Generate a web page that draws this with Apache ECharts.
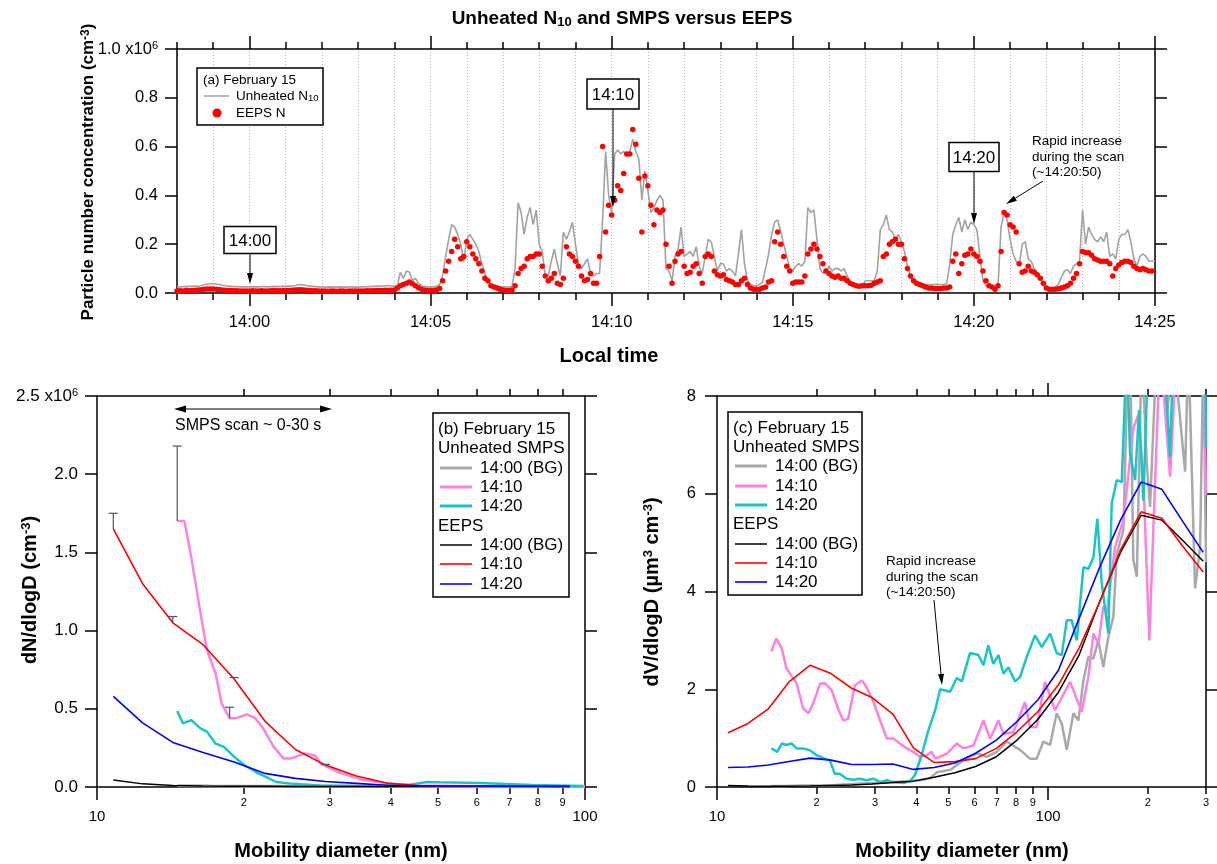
<!DOCTYPE html>
<html><head><meta charset="utf-8">
<script src="https://cdn.jsdelivr.net/npm/echarts@6/dist/echarts.min.js"></script>
<style>html,body{margin:0;padding:0;background:#fff}#c{width:1217px;height:864px}</style>
</head><body><div id="c"></div>
<script>
const FONT = '"Liberation Sans", Arial, Helvetica, sans-serif';

// ================= Panel (a): time series, values in 10^6 cm^-3 =================
const timeStartMin = -2;      // 13:58, minutes relative to 14:00
const sampleStepSec = 5;
const majorTimeTicks = [0, 5, 10, 15, 20, 25];
const majorTimeLabels = ['14:00', '14:05', '14:10', '14:15', '14:20', '14:25'];

const unheatedN10 = [
  0.025,0.025,0.026,0.026,0.027,0.027,0.028,0.028,0.030,0.034,0.037,0.038, // 13:58
  0.038,0.037,0.035,0.032,0.030,0.028,0.027,0.026,0.026,0.025,0.025,0.025, // 13:59
  0.025,0.026,0.025,0.025,0.026,0.026,0.025,0.026,0.027,0.026,0.026,0.027, // 14:00
  0.027,0.028,0.028,0.030,0.033,0.035,0.033,0.030,0.028,0.027,0.026,0.025, // 14:01
  0.025,0.024,0.024,0.025,0.024,0.024,0.025,0.024,0.024,0.025,0.025,0.024, // 14:02
  0.024,0.025,0.025,0.026,0.026,0.027,0.028,0.028,0.029,0.030,0.030,0.029, // 14:03
  0.028,0.030,0.085,0.060,0.090,0.085,0.050,0.060,0.040,0.030,0.027,0.025, // 14:04
  0.025,0.025,0.027,0.035,0.070,0.150,0.220,0.280,0.270,0.240,0.200,0.130, // 14:05
  0.220,0.240,0.220,0.200,0.170,0.120,0.080,0.050,0.035,0.030,0.027,0.025, // 14:06
  0.025,0.025,0.025,0.026,0.100,0.370,0.330,0.240,0.310,0.350,0.280,0.340, // 14:07
  0.200,0.170,0.070,0.070,0.130,0.180,0.120,0.070,0.250,0.220,0.250,0.290, // 14:08
  0.200,0.120,0.100,0.120,0.140,0.080,0.070,0.080,0.080,0.300,0.580,0.400, // 14:09
  0.330,0.570,0.586,0.570,0.580,0.560,0.580,0.630,0.580,0.550,0.380,0.500, // 14:10
  0.420,0.330,0.350,0.380,0.400,0.380,0.100,0.090,0.050,0.150,0.180,0.270, // 14:11
  0.150,0.160,0.170,0.150,0.190,0.110,0.080,0.150,0.220,0.210,0.150,0.090, // 14:12
  0.120,0.120,0.090,0.100,0.090,0.070,0.160,0.260,0.120,0.050,0.035,0.030, // 14:13
  0.030,0.035,0.045,0.100,0.160,0.240,0.290,0.300,0.250,0.200,0.150,0.100, // 14:14
  0.090,0.110,0.120,0.110,0.130,0.350,0.330,0.340,0.220,0.100,0.080,0.090, // 14:15
  0.110,0.090,0.100,0.100,0.090,0.100,0.070,0.050,0.035,0.030,0.028,0.030, // 14:16
  0.050,0.050,0.050,0.050,0.090,0.260,0.280,0.320,0.260,0.250,0.220,0.240, // 14:17
  0.210,0.170,0.110,0.070,0.050,0.040,0.035,0.035,0.035,0.035,0.035,0.035, // 14:18
  0.035,0.035,0.035,0.037,0.120,0.240,0.280,0.310,0.250,0.300,0.260,0.290, // 14:19
  0.280,0.260,0.150,0.050,0.030,0.025,0.025,0.025,0.030,0.270,0.330,0.300, // 14:20
  0.220,0.160,0.130,0.110,0.200,0.210,0.140,0.130,0.100,0.080,0.060,0.040, // 14:21
  0.025,0.020,0.020,0.025,0.035,0.065,0.090,0.095,0.080,0.110,0.120,0.130, // 14:22
  0.340,0.200,0.270,0.240,0.220,0.210,0.230,0.210,0.250,0.150,0.160,0.140, // 14:23
  0.220,0.240,0.240,0.260,0.210,0.140,0.110,0.150,0.160,0.150,0.130,0.130, // 14:24
  0.130                                                                    // 14:25
];

const eepsN = [
  0.008,0.009,0.008,0.010,0.009,0.010,0.011,0.012,0.013,0.015,0.016,0.016,
  0.016,0.015,0.014,0.012,0.011,0.010,0.010,0.009,0.009,0.008,0.008,0.008,
  0.008,0.009,0.008,0.008,0.009,0.008,0.008,0.009,0.010,0.009,0.009,0.010,
  0.010,0.010,0.011,0.012,0.013,0.013,0.012,0.011,0.010,0.009,0.009,0.008,
  0.008,0.008,0.007,0.008,0.008,0.007,0.008,0.008,0.007,0.008,0.008,0.008,
  0.008,0.008,0.008,0.009,0.009,0.009,0.010,0.010,0.010,0.011,0.011,0.011,
  0.012,0.020,0.030,0.035,0.040,0.045,0.038,0.030,0.022,0.015,0.012,0.010,
  0.010,0.010,0.012,0.018,0.050,0.090,0.130,0.170,0.220,0.190,0.140,0.150,
  0.210,0.190,0.160,0.140,0.120,0.090,0.060,0.050,0.030,0.025,0.020,0.015,
  0.012,0.010,0.010,0.012,0.030,0.080,0.100,0.110,0.140,0.150,0.150,0.160,
  0.160,0.110,0.070,0.050,0.060,0.080,0.040,0.035,0.060,0.190,0.160,0.150,
  0.130,0.110,0.070,0.050,0.055,0.080,0.040,0.040,0.150,0.600,0.250,0.360,
  0.320,0.380,0.440,0.420,0.490,0.570,0.570,0.670,0.610,0.470,0.250,0.480,
  0.440,0.360,0.280,0.340,0.330,0.340,0.200,0.110,0.040,0.130,0.160,0.170,
  0.110,0.080,0.085,0.110,0.120,0.080,0.040,0.150,0.160,0.150,0.090,0.075,
  0.070,0.075,0.055,0.050,0.045,0.035,0.035,0.050,0.060,0.035,0.020,0.015,
  0.015,0.015,0.020,0.025,0.045,0.050,0.210,0.250,0.200,0.150,0.110,0.090,
  0.040,0.045,0.045,0.045,0.070,0.160,0.180,0.200,0.180,0.150,0.120,0.090,
  0.080,0.070,0.065,0.070,0.060,0.060,0.050,0.040,0.035,0.030,0.028,0.030,
  0.030,0.030,0.032,0.040,0.045,0.050,0.150,0.160,0.200,0.210,0.220,0.200,
  0.200,0.140,0.100,0.070,0.050,0.040,0.035,0.030,0.025,0.020,0.020,0.018,
  0.018,0.018,0.020,0.020,0.025,0.130,0.160,0.080,0.120,0.155,0.160,0.180,
  0.160,0.150,0.130,0.090,0.050,0.030,0.025,0.015,0.030,0.170,0.330,0.320,
  0.280,0.270,0.250,0.120,0.085,0.090,0.110,0.090,0.085,0.075,0.060,0.040,
  0.020,0.015,0.015,0.015,0.017,0.020,0.025,0.030,0.040,0.060,0.080,0.120,
  0.170,0.165,0.165,0.155,0.140,0.135,0.130,0.130,0.130,0.120,0.070,0.100,
  0.115,0.125,0.130,0.130,0.125,0.110,0.100,0.095,0.100,0.095,0.090,0.090
];

// ================= Panel (b): dN/dlogD in 10^6 cm^-3 =================
const eepsDiamB = [10.8,12.4,14.3,16.5,19.1,22.1,25.5,29.4,34.0,39.2,45.3,52.3,60.4,69.8,80.6,93.1];
const eepsBG_B   = [0.045,0.020,0.010,0.007,0.005,0.004,0.003,0.003,0.0025,0.002,0.004,0.0035,0.003,0.003,0.003,0.003];
const eeps1410_B = [1.65,1.30,1.05,0.91,0.69,0.42,0.24,0.14,0.07,0.025,0.010,0.007,0.005,0.0044,0.0041,0.0036];
const eeps1420_B = [0.58,0.41,0.285,0.22,0.16,0.087,0.055,0.035,0.023,0.011,0.008,0.0065,0.006,0.0054,0.0049,0.0042];

const smpsBGDiamB = [14.6,17.0,20.0,25.0,30.0,40.0,50.0,70.0,100];
const smpsBG_B    = [0.008,0.006,0.005,0.004,0.004,0.003,0.003,0.002,0.002];
const smps1410DiamB = [14.6,15.1,15.6,16.3,16.8,17.5,18.0,18.7,19.3,20.3,21.1,21.9,23.0,24.1,25.0,26.7,28.0,28.7,31.5,34.6,39.9,45.9,61.0,100];
const smps1410_B    = [1.70,1.70,1.47,1.11,0.876,0.726,0.535,0.44,0.44,0.465,0.44,0.375,0.258,0.183,0.183,0.215,0.20,0.15,0.09,0.05,0.02,0.01,0.005,0.003];
const smps1420DiamB = [14.6,15.0,15.6,16.3,16.8,17.5,18.2,19.0,19.9,21.2,22.3,23.3,25.2,28.6,35.0,43.8,47.4,50.4,60.9,78.3,99.1];
const smps1420_B    = [0.486,0.407,0.428,0.375,0.354,0.277,0.256,0.20,0.147,0.094,0.062,0.032,0.02,0.01,0.006,0.015,0.032,0.030,0.025,0.012,0.006];
// error bars: [diameter, value, upper]
const errBarsB = [[10.8,1.65,1.75],[14.3,1.05,1.09],[19.1,0.69,0.70],[29.4,0.14,0.145],[14.6,1.70,2.18],[18.7,0.44,0.51]];

// ================= Panel (c): dV/dlogD in um^3 cm^-3 =================
const eepsDiamC  = [10.8,12.4,14.3,16.5,19.1,22.1,25.5,29.4,34.0,39.2,45.3,52.3,60.4,69.8,80.6,93.1,107.5,124.1,143.3,165.5,191.1,220.7,254.8,294.3];
const eepsBG_C   = [0.03,0.02,0.015,0.015,0.02,0.03,0.04,0.06,0.09,0.12,0.20,0.29,0.42,0.62,0.96,1.38,1.94,2.70,3.80,4.80,5.56,5.46,5.05,4.62];
const eeps1410_C = [1.11,1.30,1.60,2.15,2.49,2.32,2.02,1.83,1.49,0.80,0.50,0.52,0.58,0.79,1.13,1.54,2.09,2.84,3.79,4.85,5.63,5.50,4.93,4.40];
const eeps1420_C = [0.40,0.41,0.45,0.52,0.59,0.55,0.46,0.46,0.47,0.36,0.40,0.49,0.69,0.96,1.34,1.78,2.39,3.45,4.50,5.46,6.24,6.09,5.44,4.80];

const smpsBGDiamC = [14.6,16.2,18.2,20.5,22.7,25.8,29.7,34.1,37.4,41.0,44.0,46.1,50.6,55.5,60.9,65.3,70.0,75.0,82.3,88.2,92.4,96.8,101.4,106.2,110.0,113.9,119.3,123.5,127.9,132.3,137.1,141.9,146.9,152.1,157.5,161.3,168.9,172.9,176.9,181.0,185.4,191.9,198.7,203.3,213.0,223.0,228.4,239.1,259.4,265.4,278.0,287.9,294.6,300];
const smpsBG_C    = [0.02,0.02,0.03,0.03,0.04,0.06,0.08,0.10,0.12,0.14,0.18,0.30,0.35,0.55,0.69,0.62,0.72,0.93,0.76,0.58,0.58,0.93,0.86,1.51,1.30,0.76,1.51,1.36,2.18,2.66,2.63,3.00,2.45,3.07,3.48,4.77,5.25,7.93,9,4.64,4.30,9,6.62,5.73,9,9,7.55,9,6.45,9,4.06,4.91,9,4.6];
const smps1410DiamC = [14.6,15.1,15.7,16.2,17.4,18.2,18.9,19.5,20.5,21.2,22.2,23.3,24.1,24.9,26.1,27.4,28.3,29.7,31.1,32.6,34.1,35.7,37.4,39.2,41.0,43.0,44.5,45.6,49.4,53.0,55.5,59.5,63.8,66.8,70.8,73.3,78.6,85.2,88.2,92.4,97.9,105.0,116.6,126.4,132.3,137.1,141.9,146.9,150.4,159.4,168.9,181.0,187.4,194.1,202.3,209.0,218.0,233.7,244.8,256.3,294.6,300];
const smps1410_C    = [2.77,3.04,2.83,2.43,2.12,1.61,1.51,1.70,2.12,2.12,1.98,1.57,1.36,1.40,2.08,2.18,2.04,1.74,1.36,0.99,0.99,0.89,0.79,0.72,0.62,0.65,0.72,0.58,0.68,0.89,0.79,0.85,1.36,0.99,1.36,1.09,1.12,1.74,1.23,1.23,2.15,1.57,2.15,1.54,2.25,3.14,2.93,3.69,3.55,4.91,5.46,7.34,7.61,6.28,3.0,5.67,9,6.35,9,9,9,5.98];
const smps1420DiamC = [14.6,15.2,15.7,16.2,16.8,17.4,18.2,19.1,20.0,21.2,21.9,22.7,23.5,24.6,25.8,27.0,28.3,29.7,31.1,32.6,34.1,36.5,38.3,39.6,41.5,43.5,45.6,47.2,50.6,53.0,54.9,58.1,61.6,63.8,66.0,68.3,70.8,73.3,75.9,79.5,82.3,86.2,91.3,95.7,101.4,106.2,110.0,113.9,117.9,122.1,127.9,132.3,137.1,140.9,145.3,152.1,155.7,161.3,167.0,172.9,176.9,183.2,188.3,194.1,200.9,208.0,223.0,233.7,239.1,259.4,262.4,298.1,300];
const smps1420_C    = [0.79,0.72,0.89,0.86,0.89,0.79,0.79,0.75,0.65,0.58,0.55,0.27,0.27,0.17,0.15,0.17,0.14,0.17,0.10,0.14,0.10,0.08,0.12,0.24,0.65,1.16,1.57,2.0,1.95,2.23,2.16,2.74,2.70,2.49,2.90,2.52,2.70,2.32,2.45,2.16,2.25,2.66,3.10,2.86,3.14,2.74,2.70,3.41,3.41,3.0,4.50,4.46,4.70,5.49,4.16,3.14,5.80,6.28,6.24,9,6.82,6.28,7.71,5.86,9,9,9,6.75,9,9,9,9,6.95];

// tick values for the log axes
const minorTicksB = [20,30,40,50,60,70,80,90];
const minorTicksC = [20,30,40,50,60,70,80,90,200,300];
const majorTicksLog = [10,100];

// ================= helpers =================
const zip = (xs, ys) => xs.map((x, i) => [x, ys[i]]);
const timeSeries = vals => vals.map((v, i) => [timeStartMin + i * sampleStepSec / 60, v]);

const C = {
  n10: '#a2a2a2', red: '#ff0000', grayS: '#a9a9a9', pink: '#ff80e2', cyan: '#19c6c6', blue: '#0000ff', black: '#000000'
};

const axLine = {onZero: false, lineStyle: {color: '#000', width: 1.5}};
const noLine = {show: false, onZero: false};
const tick = (len, extra) => Object.assign({show: true, length: len, lineStyle: {color: '#000', width: 1.5}}, extra || {});
const noLabel = {show: false};
const supRich = size => ({sup: {fontSize: size, verticalAlign: 'top', fontFamily: FONT, color: '#000'}});

function xValueAxis(grid, pos, line, tk, label, extra) {
  return Object.assign({type: 'value', gridIndex: grid, position: pos, min: -2, max: 25,
    axisLine: line, axisTick: tk, axisLabel: label, splitLine: {show: false}}, extra || {});
}
function xLogAxis(grid, pos, max, line, tk, label) {
  return {type: 'log', logBase: 10, gridIndex: grid, position: pos, min: 10, max: max,
    axisLine: line, axisTick: tk, axisLabel: label, splitLine: {show: false}, minorTick: {show: false}};
}

const xAxes = [
  // 0: panel a bottom minute ticks + dotted grid
  xValueAxis(0, 'bottom', axLine, tick(7), noLabel, {interval: 1,
    splitLine: {show: true, lineStyle: {color: '#b5b5b5', width: 1, type: [1, 2]}}}),
  // 1: panel a bottom major ticks + labels
  xValueAxis(0, 'bottom', noLine, tick(13, {customValues: majorTimeTicks}),
    {show: true, customValues: majorTimeTicks, margin: 21, fontSize: 16.5, color: '#000', fontFamily: FONT,
     formatter: v => majorTimeLabels[majorTimeTicks.indexOf(Math.round(v))]}),
  // 2: panel a top minute ticks
  xValueAxis(0, 'top', axLine, tick(7), noLabel, {interval: 1}),
  // 3: panel a top major ticks
  xValueAxis(0, 'top', noLine, tick(13, {customValues: majorTimeTicks}), noLabel),
  // 4: panel b bottom minor (data axis)
  xLogAxis(1, 'bottom', 100, axLine, tick(7, {customValues: minorTicksB}),
    {show: true, customValues: minorTicksB, margin: 10, fontSize: 11, color: '#000', fontFamily: FONT,
     formatter: v => String(Math.round(v / 10))}),
  // 5: panel b bottom major
  xLogAxis(1, 'bottom', 100, noLine, tick(13, {customValues: majorTicksLog}),
    {show: true, customValues: majorTicksLog, margin: 22, fontSize: 15, color: '#000', fontFamily: FONT,
     formatter: v => String(Math.round(v))}),
  // 6: panel b top
  xLogAxis(1, 'top', 100, axLine, tick(7, {customValues: minorTicksB}), noLabel),
  // 7: panel c bottom minor (data axis)
  xLogAxis(2, 'bottom', 300, axLine, tick(7, {customValues: minorTicksC}),
    {show: true, customValues: minorTicksC, margin: 10, fontSize: 11, color: '#000', fontFamily: FONT,
     formatter: v => String(Math.round(v < 100 ? v / 10 : v / 100))}),
  // 8: panel c bottom major
  xLogAxis(2, 'bottom', 300, noLine, tick(13, {customValues: majorTicksLog}),
    {show: true, customValues: majorTicksLog, margin: 22, fontSize: 15, color: '#000', fontFamily: FONT,
     formatter: v => String(Math.round(v))}),
  // 9: panel c top minor
  xLogAxis(2, 'top', 300, axLine, tick(7, {customValues: minorTicksC}), noLabel),
  // 10: panel c top major
  xLogAxis(2, 'top', 300, noLine, tick(13, {customValues: [100]}), noLabel)
];

const yAxes = [
  {type: 'value', gridIndex: 0, position: 'left', min: 0, max: 1, interval: 0.2,
   axisLine: axLine, axisTick: tick(12), splitLine: {show: false},
   axisLabel: {show: true, margin: 19, fontSize: 16.5, color: '#000', fontFamily: FONT, rich: supRich(11),
     formatter: v => Math.abs(v - 1) < 1e-9 ? '1.0 x10{sup|6}' : v.toFixed(1)}},
  {type: 'value', gridIndex: 0, position: 'right', min: 0, max: 1, interval: 0.2,
   axisLine: axLine, axisTick: tick(12), axisLabel: noLabel, splitLine: {show: false}},
  {type: 'value', gridIndex: 1, position: 'left', min: 0, max: 2.5, interval: 0.5,
   axisLine: axLine, axisTick: tick(12), splitLine: {show: false},
   axisLabel: {show: true, margin: 19, fontSize: 17, color: '#000', fontFamily: FONT, rich: supRich(11),
     formatter: v => Math.abs(v - 2.5) < 1e-9 ? '2.5 x10{sup|6}' : v.toFixed(1)}},
  {type: 'value', gridIndex: 1, position: 'right', min: 0, max: 2.5, interval: 0.5,
   axisLine: axLine, axisTick: tick(12), axisLabel: noLabel, splitLine: {show: false}},
  {type: 'value', gridIndex: 2, position: 'left', min: 0, max: 8, interval: 2,
   axisLine: axLine, axisTick: tick(12), splitLine: {show: false},
   axisLabel: {show: true, margin: 21, fontSize: 16.5, color: '#000', fontFamily: FONT, formatter: v => String(Math.round(v))}},
  {type: 'value', gridIndex: 2, position: 'right', min: 0, max: 8, interval: 2,
   axisLine: axLine, axisTick: tick(12), axisLabel: noLabel, splitLine: {show: false}}
];

function lineSeries(name, xi, yi, data, color, width, z) {
  return {name, type: 'line', xAxisIndex: xi, yAxisIndex: yi, data, showSymbol: false, symbol: 'none',
    clip: true, lineStyle: {color, width}, itemStyle: {color}, z: z || 2, silent: true};
}

const series = [
  lineSeries('Unheated N10', 0, 0, timeSeries(unheatedN10), C.n10, 1.6, 2),
  {name: 'EEPS N', type: 'scatter', xAxisIndex: 0, yAxisIndex: 0, data: timeSeries(eepsN),
   symbol: 'circle', symbolSize: 5.5, itemStyle: {color: C.red, opacity: 1}, z: 3, silent: true},

  lineSeries('SMPS 14:00 (BG) b', 4, 2, zip(smpsBGDiamB, smpsBG_B), C.grayS, 3, 2),
  lineSeries('SMPS 14:10 b', 4, 2, zip(smps1410DiamB, smps1410_B), C.pink, 2.5, 2),
  lineSeries('SMPS 14:20 b', 4, 2, zip(smps1420DiamB, smps1420_B), C.cyan, 2.5, 2),
  lineSeries('EEPS 14:00 (BG) b', 4, 2, zip(eepsDiamB, eepsBG_B), C.black, 1.5, 3),
  lineSeries('EEPS 14:10 b', 4, 2, zip(eepsDiamB, eeps1410_B), C.red, 1.6, 3),
  lineSeries('EEPS 14:20 b', 4, 2, zip(eepsDiamB, eeps1420_B), C.blue, 1.6, 3),
  {type: 'custom', xAxisIndex: 4, yAxisIndex: 2, data: errBarsB, z: 4, silent: true, clip: false,
   encode: {x: 0, y: [1, 2]},
   renderItem: (params, api) => {
     const p0 = api.coord([api.value(0), api.value(1)]);
     const p1 = api.coord([api.value(0), api.value(2)]);
     const st = {stroke: '#555', lineWidth: 1.2};
     return {type: 'group', children: [
       {type: 'line', shape: {x1: p0[0], y1: p0[1], x2: p1[0], y2: p1[1]}, style: st},
       {type: 'line', shape: {x1: p1[0] - 4.5, y1: p1[1], x2: p1[0] + 4.5, y2: p1[1]}, style: st}
     ]};
   }},

  lineSeries('SMPS 14:00 (BG) c', 7, 4, zip(smpsBGDiamC, smpsBG_C), C.grayS, 2.5, 2),
  lineSeries('SMPS 14:10 c', 7, 4, zip(smps1410DiamC, smps1410_C), C.pink, 2.5, 2),
  lineSeries('SMPS 14:20 c', 7, 4, zip(smps1420DiamC, smps1420_C), C.cyan, 2.5, 2),
  lineSeries('EEPS 14:00 (BG) c', 7, 4, zip(eepsDiamC, eepsBG_C), C.black, 1.5, 3),
  lineSeries('EEPS 14:10 c', 7, 4, zip(eepsDiamC, eeps1410_C), C.red, 1.6, 3),
  lineSeries('EEPS 14:20 c', 7, 4, zip(eepsDiamC, eeps1420_C), C.blue, 1.6, 3)
];

// ================= graphic helpers (text, legends, annotations) =================
function txt(x, y, text, size, o) {
  o = o || {};
  const align = o.align || 'left';
  return {type: 'text', x, y, rotation: o.rot || 0, z: 100, silent: true,
    style: {text, x: 0, y: 0, fill: '#000', fontSize: size, fontFamily: FONT,
      fontWeight: o.bold ? 'bold' : 'normal', align, textAlign: align,
      verticalAlign: 'middle', textVerticalAlign: 'middle', rich: o.rich}};
}
function hline(x1, x2, y, color, w) {
  return {type: 'line', z: 100, silent: true, shape: {x1, y1: y, x2, y2: y}, style: {stroke: color, lineWidth: w}};
}
function box(x, y, w, h, lw) {
  return {type: 'rect', z: 99, silent: true, shape: {x, y, width: w, height: h},
    style: {fill: '#fff', stroke: '#000', lineWidth: lw || 1.5}};
}
function head(x1, y1, x2, y2, L, W) {
  const d = Math.hypot(x2 - x1, y2 - y1), ux = (x2 - x1) / d, uy = (y2 - y1) / d;
  const bx = x2 - ux * L, by = y2 - uy * L;
  return {type: 'polygon', z: 100, silent: true,
    shape: {points: [[x2, y2], [bx - uy * W, by + ux * W], [bx + uy * W, by - ux * W]]}, style: {fill: '#000'}};
}
function arrow(x1, y1, x2, y2, o) {
  o = o || {};
  const L = o.len || 10, W = o.w || 3;
  const d = Math.hypot(x2 - x1, y2 - y1), ux = (x2 - x1) / d, uy = (y2 - y1) / d;
  const els = [{type: 'line', z: 100, silent: true,
    shape: {x1: o.both ? x1 + ux * L : x1, y1: o.both ? y1 + uy * L : y1, x2: x2 - ux * L, y2: y2 - uy * L},
    style: {stroke: '#000', lineWidth: o.lw || 1}}];
  els.push(head(x1, y1, x2, y2, L, W));
  if (o.both) els.push(head(x2, y2, x1, y1, L, W));
  return els;
}

const subRich = (size, bold) => ({s: {fontSize: size, verticalAlign: 'bottom', fontFamily: FONT,
  fontWeight: bold ? 'bold' : 'normal', color: '#000'}});
const supRichB = (size, bold) => ({p: {fontSize: size, verticalAlign: 'top', fontFamily: FONT,
  fontWeight: bold ? 'bold' : 'normal', color: '#000'}});

const g = [];
// titles
g.push(txt(622, 19, 'Unheated N{s|10} and SMPS versus EEPS', 19, {bold: true, align: 'center', rich: subRich(13, true)}));
g.push(txt(609, 356, 'Local time', 20, {bold: true, align: 'center'}));
g.push(txt(341, 851, 'Mobility diameter (nm)', 20, {bold: true, align: 'center'}));
g.push(txt(962, 851, 'Mobility diameter (nm)', 20, {bold: true, align: 'center'}));
g.push(txt(88, 172, 'Particle number concentration (cm{p|-3})', 17, {bold: true, align: 'center', rot: Math.PI / 2, rich: supRichB(12, true)}));
g.push(txt(30, 590, 'dN/dlogD (cm{p|-3})', 20, {bold: true, align: 'center', rot: Math.PI / 2, rich: supRichB(13, true)}));
g.push(txt(652, 592, 'dV/dlogD (µm{p|3} cm{p|-3})', 20, {bold: true, align: 'center', rot: Math.PI / 2, rich: supRichB(13, true)}));

// legend (a)
g.push(box(197, 68, 126, 57, 1.5));
g.push(txt(203, 80, '(a) February 15', 13.5));
g.push(hline(204, 229, 96, C.n10, 1.5));
g.push(txt(236, 96, 'Unheated N{s|10}', 13.5, {rich: subRich(9.5, false)}));
g.push({type: 'circle', z: 100, silent: true, shape: {cx: 217, cy: 113, r: 4.5}, style: {fill: C.red}});
g.push(txt(236, 113, 'EEPS N', 13.5));

// annotation boxes (a)
function timeBox(cx, cy, w, h, label, tipY) {
  g.push(box(cx - w / 2, cy - h / 2, w, h, 1.5));
  g.push(txt(cx, cy + 1, label, 17, {align: 'center'}));
  arrow(cx, cy + h / 2, cx, tipY, {len: 11, w: 3}).forEach(e => g.push(e));
}
timeBox(250, 240, 52, 27, '14:00', 284);
timeBox(613, 94, 52, 30, '14:10', 207);
timeBox(974, 157, 50, 29, '14:20', 224);
g.push(txt(1032, 141, 'Rapid increase', 13.5));
g.push(txt(1032, 157, 'during the scan', 13.5));
g.push(txt(1032, 172, '(~14:20:50)', 13.5));
arrow(1043, 181, 1006, 204, {len: 11, w: 3}).forEach(e => g.push(e));

// panel (b) annotation + legend
arrow(174, 409, 332, 409, {both: true, len: 12, w: 3.5, lw: 1.2}).forEach(e => g.push(e));
g.push(txt(175, 426, 'SMPS scan ~ 0-30 s', 16));

function sizeLegend(x, y, w, h, tag, rows, hx, lx1, lx2, tx) {
  g.push(box(x, y, w, h, 1.5));
  g.push(txt(hx, rows[0], tag + ' February 15', 17));
  g.push(txt(hx, rows[1], 'Unheated SMPS', 17));
  g.push(hline(lx1, lx2, rows[2], C.grayS, 3)); g.push(txt(tx, rows[2], '14:00 (BG)', 17));
  g.push(hline(lx1, lx2, rows[3], C.pink, 3)); g.push(txt(tx, rows[3], '14:10', 17));
  g.push(hline(lx1, lx2, rows[4], C.cyan, 3)); g.push(txt(tx, rows[4], '14:20', 17));
  g.push(txt(hx, rows[5], 'EEPS', 17));
  g.push(hline(lx1, lx2, rows[6], C.black, 1.5)); g.push(txt(tx, rows[6], '14:00 (BG)', 17));
  g.push(hline(lx1, lx2, rows[7], C.red, 1.6)); g.push(txt(tx, rows[7], '14:10', 17));
  g.push(hline(lx1, lx2, rows[8], C.blue, 1.6)); g.push(txt(tx, rows[8], '14:20', 17));
}
sizeLegend(433, 413, 136, 184, '(b)', [429, 448, 468, 487, 506, 526, 545, 564, 584], 438, 440, 472, 480);
sizeLegend(728, 412, 134, 183, '(c)', [428, 447, 466, 486, 505, 524, 544, 563, 582], 733, 735, 767, 775);

// panel (c) annotation
g.push(txt(886, 561, 'Rapid increase', 13.5));
g.push(txt(886, 577, 'during the scan', 13.5));
g.push(txt(886, 592, '(~14:20:50)', 13.5));
arrow(934, 600, 942, 685, {len: 11, w: 3}).forEach(e => g.push(e));

const option = {
  animation: false,
  backgroundColor: '#ffffff',
  textStyle: {fontFamily: FONT, color: '#000'},
  grid: [
    {left: 177, top: 49, width: 978, height: 244, containLabel: false, outerBoundsMode: 'none'},
    {left: 97, top: 396, width: 488, height: 391, containLabel: false, outerBoundsMode: 'none'},
    {left: 717, top: 396, width: 489, height: 391, containLabel: false, outerBoundsMode: 'none'}
  ],
  xAxis: xAxes,
  yAxis: yAxes,
  series,
  graphic: {elements: g}
};

const chart = echarts.init(document.getElementById('c'), null, {renderer: 'canvas', width: 1217, height: 864});
chart.setOption(option);
</script></body></html>
